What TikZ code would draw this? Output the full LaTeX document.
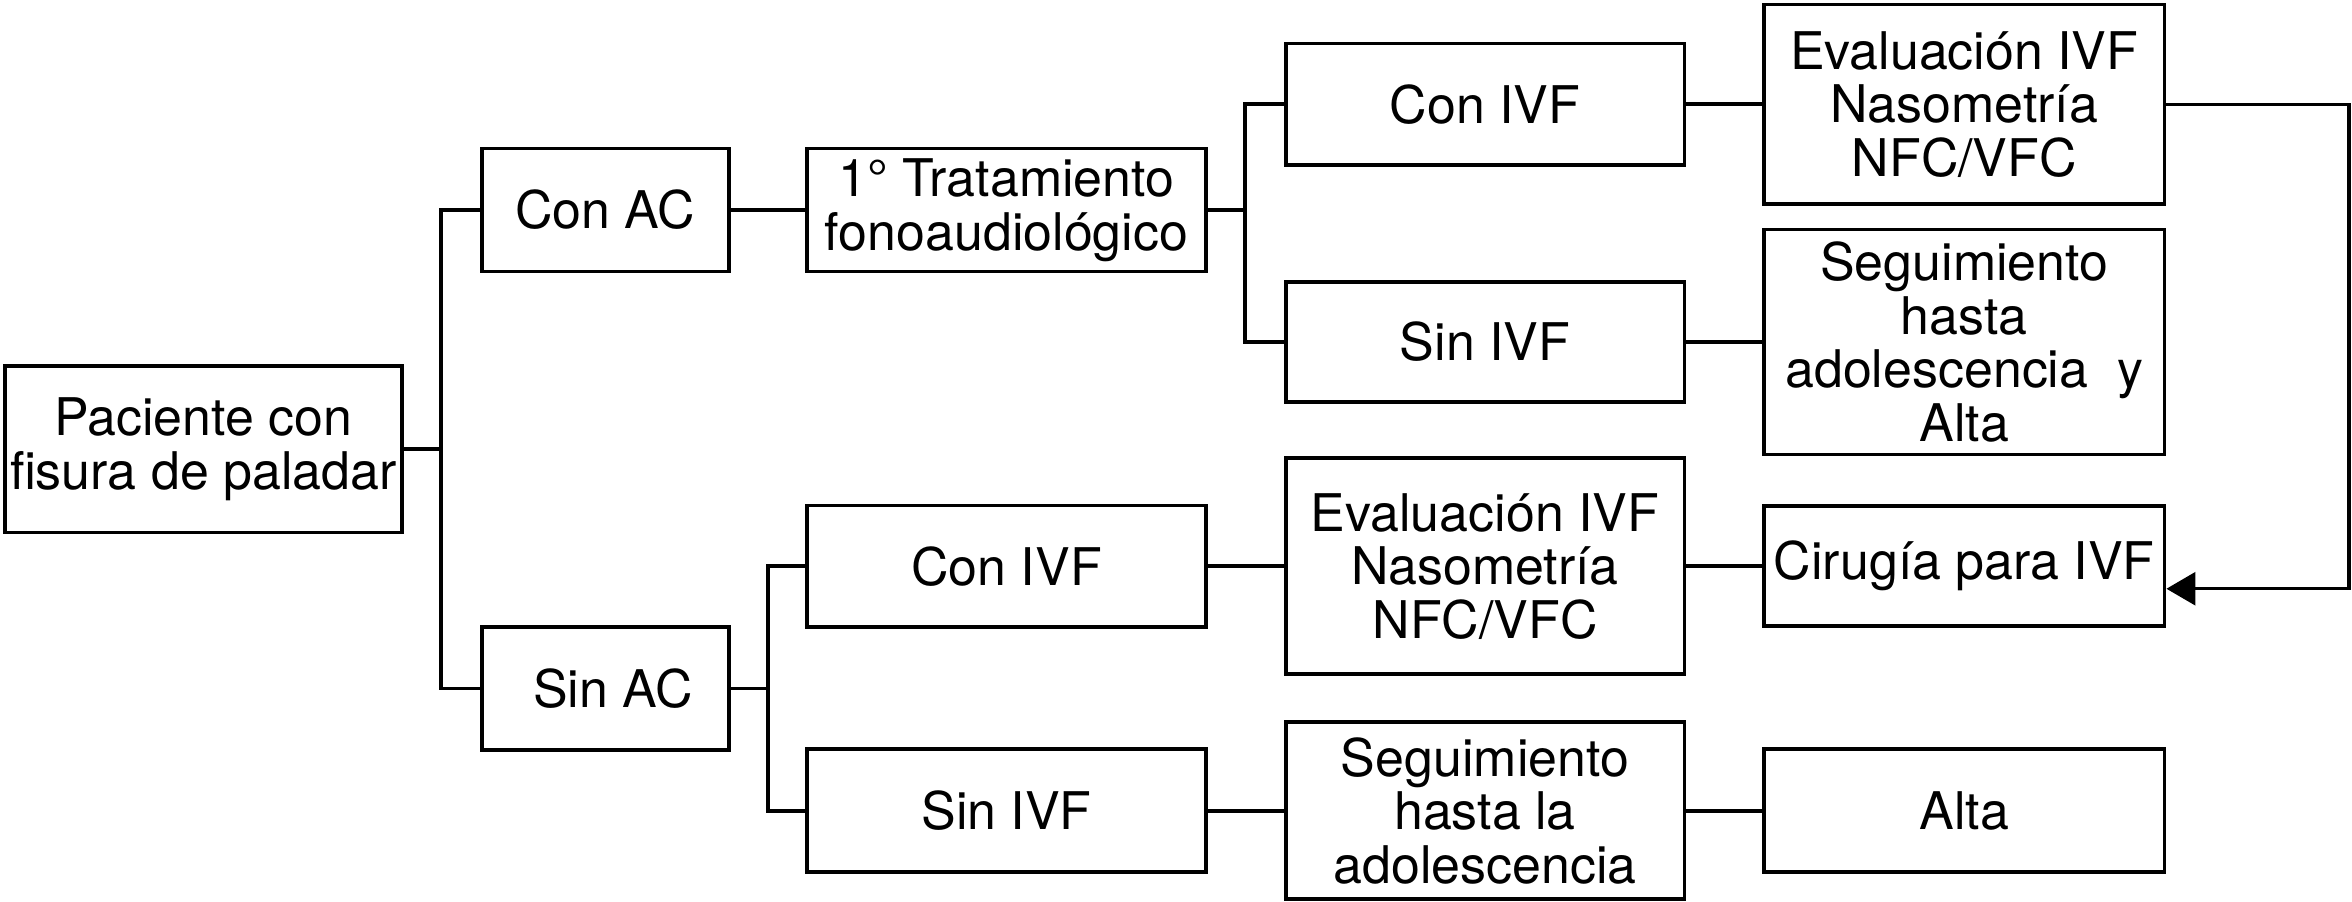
\documentclass[tikz,border=0pt]{standalone}
\usepackage{fontspec}
\setmainfont{TeX Gyre Heros}
\usetikzlibrary{arrows.meta,calc}
\begin{document}
\begin{tikzpicture}[x=0.02cm,y=-0.02cm,
  box/.style={draw, line width=1.5pt, align=center, inner sep=0pt,
    font=\fontsize{19.7}{20.3}\selectfont},
  conn/.style={line width=1.5pt},
  fb/.style={line width=1.2pt, -{Triangle[length=11pt,width=12.5pt]}}]
\useasboundingbox (0,0) rectangle (1568,600.7);

\node[box, minimum width=5.30cm, minimum height=2.22cm] (pac) at (135.5,299.5) {Paciente con\\fisura de paladar};
\node[box, minimum width=3.30cm, minimum height=1.64cm] (conac) at (403.5,140) {Con AC};
\node[box, minimum width=3.30cm, minimum height=1.64cm] (sinac) at (403.5,459) {\hspace{0.3em}Sin AC};
\node[box, minimum width=5.32cm, minimum height=1.64cm] (trat) at (671,140) {1° Tratamiento\\fonoaudiológico};
\node[box, minimum width=5.32cm, minimum height=1.62cm] (civ1) at (990,69.5) {Con IVF};
\node[box, minimum width=5.32cm, minimum height=1.60cm] (siv1) at (990,228) {Sin IVF};
\node[box, minimum width=5.34cm, minimum height=2.66cm] (eval1) at (1309.5,69.5) {Evaluación IVF\\Nasometría\\NFC/VFC};
\node[box, minimum width=5.34cm, minimum height=3.00cm] (seg1) at (1309.5,228) {Seguimiento\\hasta\\adolescencia\ \ y\\Alta};
\node[box, minimum width=5.32cm, minimum height=1.62cm] (civ2) at (671,377.5) {Con IVF};
\node[box, minimum width=5.32cm, minimum height=1.64cm] (siv2) at (671,540.5) {Sin IVF};
\node[box, minimum width=5.32cm, minimum height=2.88cm] (eval2) at (990,377.5) {Evaluación IVF\\Nasometría\\NFC/VFC};
\node[box, minimum width=5.32cm, minimum height=2.36cm] (seg2) at (990,540.5) {Seguimiento\\hasta la\\adolescencia};
\node[box, minimum width=5.34cm, minimum height=1.60cm] (cir) at (1309.5,377.5) {Cirugía para IVF};
\node[box, minimum width=5.34cm, minimum height=1.64cm] (alta) at (1309.5,540.5) {Alta};

\coordinate (b1) at (294,299.5);
\coordinate (b2) at (830,140);
\coordinate (b3) at (512,459);
\coordinate (rc) at (1566,69.5);

\draw[conn] (pac.east) -- (b1);
\draw[conn] (conac.west) -| (b1) |- (sinac.west);
\draw[conn] (conac.east) -- (trat.west);
\draw[conn] (trat.east) -- (b2);
\draw[conn] (civ1.west) -| (b2) |- (siv1.west);
\draw[conn] (civ1.east) -- (eval1.west);
\draw[conn] (siv1.east) -- (seg1.west);
\draw[conn] (sinac.east) -- (b3);
\draw[conn] (civ2.west) -| (b3) |- (siv2.west);
\draw[conn] (civ2.east) -- (eval2.west);
\draw[conn] (eval2.east) -- (cir.west);
\draw[conn] (siv2.east) -- (seg2.west);
\draw[conn] (seg2.east) -- (alta.west);
\draw[fb] (eval1.east) -- (rc) |- ($(cir.east)+(0,15)$);
\end{tikzpicture}
\end{document}
